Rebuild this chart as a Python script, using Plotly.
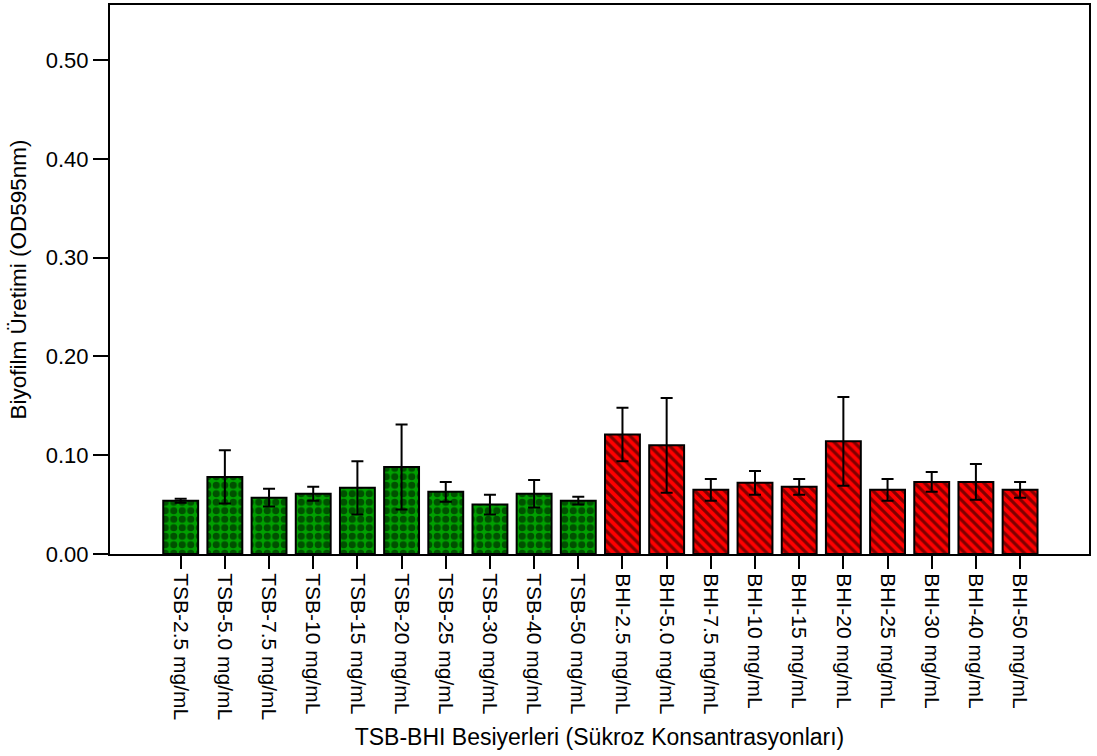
import plotly.graph_objects as go

categories = [
    "TSB-2.5 mg/mL", "TSB-5.0 mg/mL", "TSB-7.5 mg/mL", "TSB-10 mg/mL", "TSB-15 mg/mL",
    "TSB-20 mg/mL", "TSB-25 mg/mL", "TSB-30 mg/mL", "TSB-40 mg/mL", "TSB-50 mg/mL",
    "BHI-2.5 mg/mL", "BHI-5.0 mg/mL", "BHI-7.5 mg/mL", "BHI-10 mg/mL", "BHI-15 mg/mL",
    "BHI-20 mg/mL", "BHI-25 mg/mL", "BHI-30 mg/mL", "BHI-40 mg/mL", "BHI-50 mg/mL",
]
tsb_cats = categories[:10]
bhi_cats = categories[10:]

tsb_means = [0.054, 0.078, 0.057, 0.061, 0.067, 0.088, 0.063, 0.050, 0.061, 0.054]
tsb_errors = [0.002, 0.027, 0.009, 0.007, 0.027, 0.043, 0.010, 0.010, 0.014, 0.004]
bhi_means = [0.121, 0.110, 0.065, 0.072, 0.068, 0.114, 0.065, 0.073, 0.073, 0.065]
bhi_errors = [0.027, 0.048, 0.011, 0.012, 0.008, 0.045, 0.011, 0.010, 0.018, 0.008]

y_ticks = [0.0, 0.1, 0.2, 0.3, 0.4, 0.5]
y_tick_labels = ["0.00", "0.10", "0.20", "0.30", "0.40", "0.50"]

FONT = "Liberation Sans, Arial, sans-serif"

fig = go.Figure()
fig.add_trace(go.Bar(
    x=tsb_cats, y=tsb_means,
    marker=dict(color="#00a000", line=dict(color="black", width=2),
                pattern=dict(shape=".", fgcolor="black", size=8.5, solidity=0.55)),
    error_y=dict(type="data", array=tsb_errors, color="black", thickness=2, width=6),
    showlegend=False,
))
fig.add_trace(go.Bar(
    x=bhi_cats, y=bhi_means,
    marker=dict(color="#ff0000", line=dict(color="black", width=2),
                pattern=dict(shape="\\", fgcolor="black", size=7, solidity=0.45)),
    error_y=dict(type="data", array=bhi_errors, color="black", thickness=2, width=6),
    showlegend=False,
))

fig.update_layout(
    width=1097, height=756,
    margin=dict(l=110, r=8, t=5, b=202),
    paper_bgcolor="white", plot_bgcolor="white",
    bargap=0.21,
    font=dict(family=FONT, color="black"),
    xaxis=dict(
        categoryorder="array", categoryarray=categories,
        range=[-1.6, 20.56],
        tickangle=90, tickfont=dict(size=21, family=FONT),
        ticks="outside", ticklen=13, tickwidth=2, tickcolor="black",
        showline=True, linecolor="black", linewidth=2, mirror=True,
        showgrid=False, automargin=False,
        title=dict(text="TSB-BHI Besiyerleri (Sükroz Konsantrasyonları)",
                   font=dict(size=23, family=FONT), standoff=10),
    ),
    yaxis=dict(
        range=[0, 0.5557],
        tickvals=y_ticks, ticktext=y_tick_labels,
        tickfont=dict(size=22, family=FONT),
        ticks="outside", ticklen=15, tickwidth=2, tickcolor="black",
        showline=True, linecolor="black", linewidth=2, mirror=True,
        showgrid=False, zeroline=False, automargin=False,
        title=dict(text="Biyofilm Üretimi (OD595nm)",
                   font=dict(size=22.5, family=FONT), standoff=13),
    ),
)

fig.write_html("out.html", config={"displayModeBar": False},
               post_script="document.body.style.margin='0';")
